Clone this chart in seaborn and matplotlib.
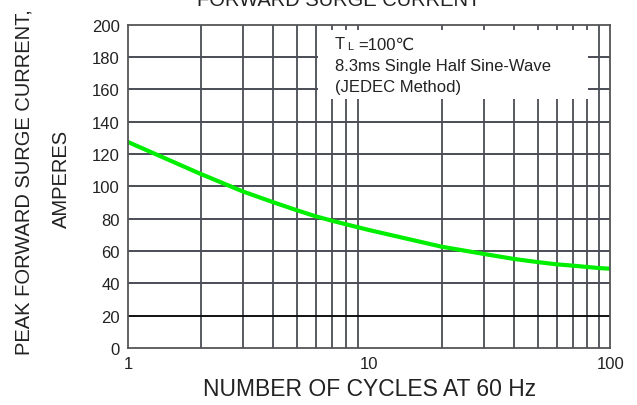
import matplotlib
matplotlib.use("Agg")
import matplotlib.pyplot as plt
import seaborn as sns
import pandas as pd
from matplotlib.patches import Rectangle

cycles = [1, 2, 3, 4, 5, 6, 7, 8, 9, 10, 20, 30, 40, 50, 60, 70, 80, 90, 100]
current = [127.4, 107.7, 96.8, 90.2, 85.3, 81.5, 78.8, 76.6, 74.7, 73.0,
           62.7, 58.2, 55.1, 53.2, 51.8, 51.0, 50.2, 49.5, 49.1]
y_ticks = [0, 20, 40, 60, 80, 100, 120, 140, 160, 180, 200]
x_ticks = [1, 10, 100]
x_tick_labels = ["1", "10", "100"]

sns.set_theme(style="white")
plt.rcParams['font.family'] = ['Liberation Sans', 'DejaVu Sans']

df = pd.DataFrame({"cycles": cycles, "current": current})

fig = plt.figure(figsize=(6.37, 4.06), dpi=100)
ax = fig.add_axes([0.201, 0.140, 0.757, 0.797])
ax.set_xscale("log")
ax.set_xlim(1, 100)
ax.set_ylim(0, 200)

grid_c = "#4a4d55"
minor = [2, 3, 4, 5, 6, 7, 8, 9, 20, 30, 40, 50, 60, 70, 80, 90]
for xv in minor:
    ax.axvline(xv, color=grid_c, lw=1.3, zorder=1)
for yv in y_ticks[1:-1]:
    ax.axhline(yv, color=("#111111" if yv == 20 else grid_c), lw=1.4, zorder=1)

# white legend box hiding the grid
ax.add_patch(Rectangle((6.14, 154), 81 - 6.14, 196.7 - 154, facecolor="white",
                       edgecolor="none", zorder=2))

sns.lineplot(data=df, x="cycles", y="current", ax=ax, color="#00ee00",
             lw=3.0, zorder=4)

ax.set_xticks(x_ticks)
ax.set_xticklabels(x_tick_labels)
ax.set_xticks([], minor=True)
ax.set_yticks(y_ticks)
ax.tick_params(axis="both", labelsize=12, length=0, pad=6, colors="#222222")
for s in ax.spines.values():
    s.set_color("#555555")
    s.set_linewidth(1.3)
    s.set_zorder(5)

ax.set_xlabel("NUMBER OF CYCLES AT 60 Hz", fontsize=16.5, labelpad=4, color="#222222")
ax.set_ylabel("")

fig.text(0.038, 0.552, "PEAK FORWARD SURGE CURRENT,", rotation=90, fontsize=14.5,
         ha="center", va="center", color="#222222")
fig.text(0.097, 0.559, "AMPERES", rotation=90, fontsize=14.5,
         ha="center", va="center", color="#222222")
fig.text(0.532, 1.0, "FORWARD SURGE CURRENT", fontsize=14.5, ha="center",
         va="center", color="#222222")

tx = 7.2
box_fs = 12
t = ax.text(tx, 188, "T", fontsize=box_fs, va="center", ha="left",
            color="#222222", zorder=6)
ax.annotate("L", xy=(tx, 188), xycoords="data", xytext=(9, -5),
            textcoords="offset points", fontsize=8, va="bottom", ha="left",
            color="#222222", zorder=6)
ax.annotate("=100℃", xy=(tx, 188), xycoords="data", xytext=(17, 0),
            textcoords="offset points", fontsize=box_fs, va="center", ha="left",
            color="#222222", zorder=6)
ax.text(tx, 175, "8.3ms Single Half Sine-Wave", fontsize=box_fs, va="center",
        ha="left", color="#222222", zorder=6)
ax.text(tx, 162, "(JEDEC Method)", fontsize=box_fs, va="center", ha="left",
        color="#222222", zorder=6)

fig.savefig("out.png", dpi=100)
